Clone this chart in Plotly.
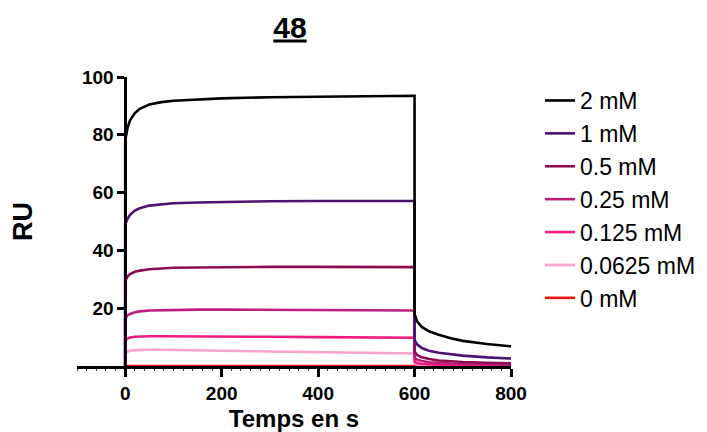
import plotly.graph_objects as go

# ---- data ----
time_s = [0, 0, 5, 10, 20, 30, 50, 75, 100, 150, 200, 300, 400, 500, 600,
          600, 605, 615, 630, 650, 675, 700, 750, 800]

ru_2mM = [0, 78, 82.5, 85, 87.5, 89, 90.5, 91.3, 91.8, 92.3, 92.6, 93, 93.2, 93.4, 93.5,
          18, 15.5, 13.5, 12, 10.8, 9.6, 8.7, 7.6, 6.8]
ru_1mM = [0, 49, 51, 52.3, 53.8, 54.6, 55.5, 56, 56.3, 56.6, 56.8, 57, 57.1, 57.1, 57.1,
          9, 7.5, 6.2, 5.3, 4.6, 4.0, 3.6, 3.0, 2.6]
ru_05mM = [0, 29.5, 31, 31.8, 32.6, 33, 33.5, 33.8, 34, 34.1, 34.2, 34.3, 34.3, 34.3, 34.2,
           5, 3.8, 3, 2.4, 1.9, 1.6, 1.4, 1.1, 0.9]
ru_025mM = [0, 16.5, 17.5, 18, 18.6, 18.9, 19.2, 19.3, 19.4, 19.5, 19.5, 19.5, 19.4, 19.3, 19.2,
            3, 2.2, 1.7, 1.3, 1.0, 0.85, 0.7, 0.5, 0.4]
ru_0125mM = [0, 8.8, 9.5, 9.9, 10.1, 10.2, 10.3, 10.3, 10.3, 10.2, 10.2, 10.1, 10.0, 9.9, 9.8,
             1.5, 1.0, 0.7, 0.5, 0.4, 0.35, 0.3, 0.2, 0.2]
ru_00625mM = [0, 4.5, 5.0, 5.3, 5.5, 5.6, 5.6, 5.6, 5.5, 5.4, 5.3, 5.0, 4.8, 4.6, 4.3,
              0.8, 0.5, 0.35, 0.25, 0.2, 0.15, 0.1, 0.1, 0.1]
ru_0mM = [0, 0, 0, 0, 0, 0, 0, 0, 0, 0, 0, 0, 0, 0, 0,
          0, 0, 0, 0, 0, 0, 0, 0, 0]

series_names = ["2 mM", "1 mM", "0.5 mM", "0.25 mM", "0.125 mM", "0.0625 mM", "0 mM"]
series_values = [ru_2mM, ru_1mM, ru_05mM, ru_025mM, ru_0125mM, ru_00625mM, ru_0mM]
series_colors = ["#000000", "#4a1470", "#8c0c52", "#bb1e7c", "#f01a80", "#f7a3cb", "#ee1414"]

x_ticks = [0, 200, 400, 600, 800]
y_ticks = [20, 40, 60, 80, 100]

FONT = "Arial, Liberation Sans, sans-serif"

fig = go.Figure()
# draw lowest concentration first so 2 mM ends up on top
for name, vals, col in reversed(list(zip(series_names, series_values, series_colors))):
    fig.add_trace(go.Scatter(
        x=time_s, y=vals, mode="lines", name=name, legendgroup=name,
        line=dict(color=col, width=2.6),
    ))

W, H = 707, 432
L, R, T, B = 77, 196, 77, 66

fig.update_layout(
    width=W, height=H,
    margin=dict(l=L, r=R, t=T, b=B, autoexpand=False),
    paper_bgcolor="white", plot_bgcolor="white",
    font=dict(family=FONT, color="black"),
    title=dict(text="<u>48</u>", font=dict(size=30, weight="bold", family=FONT),
               x=290 / W, xref="container", xanchor="center",
               y=1 - 27 / H, yref="container", yanchor="middle", automargin=False),
    legend=dict(
        traceorder="reversed", tracegroupgap=6,
        font=dict(size=23, family=FONT, color="black"),
        xref="container", yref="container",
        x=540 / W, xanchor="left", y=1 - 79 / H, yanchor="top",
        bgcolor="rgba(0,0,0,0)", itemwidth=30, maxheight=340,
    ),
    xaxis=dict(
        range=[-100, 800], tickvals=x_ticks, ticktext=[str(v) for v in x_ticks],
        showgrid=False, zeroline=False, automargin=False,
        showline=True, linecolor="black", linewidth=2.5,
        ticks="outside", ticklen=8, tickwidth=2.5, tickcolor="black",
        ticklabelstandoff=0,
        tickfont=dict(size=19, weight="bold", family=FONT),
        minor=dict(dtick=20, tick0=0, ticks="outside", ticklen=2, tickwidth=1, tickcolor="#444"),
        layer="below traces",
        title=dict(text="Temps en s", font=dict(size=24, weight="bold", family=FONT), standoff=15),
    ),
    yaxis=dict(
        range=[0, 100], tickvals=y_ticks, ticktext=[str(v) for v in y_ticks],
        anchor="free", position=100 / 900, automargin=False,
        showgrid=False, zeroline=False,
        showline=True, linecolor="black", linewidth=2.5,
        ticks="outside", ticklen=7, tickwidth=2.5, tickcolor="black",
        tickfont=dict(size=19, weight="bold", family=FONT),
        layer="below traces",
        title=dict(text="RU", font=dict(size=27, weight="bold", family=FONT), standoff=40),
    ),
)

fig.write_html("out.html", config={"displayModeBar": False},
               post_script="document.body.style.margin='0px';")
